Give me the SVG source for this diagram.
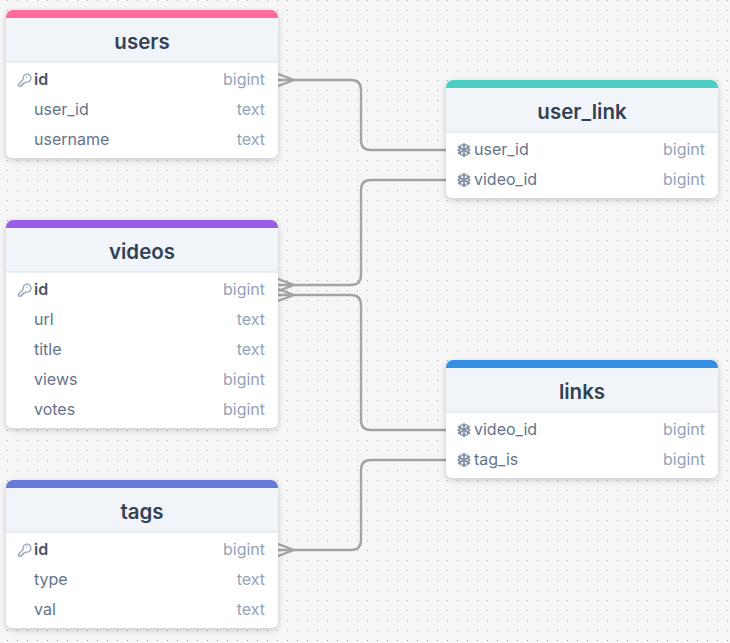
<svg xmlns="http://www.w3.org/2000/svg" width="730" height="643" viewBox="0 0 730 643">
<style>
.card{fill:#fff;filter:url(#sh)}
.head{fill:#f1f5f9}
.sep{stroke:#e2e8f0;stroke-width:1.5}
.title{font:600 20.500px Inter,"Liberation Sans",sans-serif;fill:#334155;text-anchor:middle}
.col{font:400 16px Inter,"Liberation Sans",sans-serif;fill:#64748b}
.pk{font-weight:600;fill:#475569}
.type{font:400 16px Inter,"Liberation Sans",sans-serif;fill:#94a3b8;text-anchor:end}
.edge{fill:none;stroke:#a3a3a3;stroke-width:2.400}
.ico{fill:none;stroke:#94a3b8;stroke-width:1.300;stroke-linecap:round;stroke-linejoin:round}
.fk{fill:none;stroke:#7f8ea3;stroke-width:1.500;stroke-linecap:round;stroke-linejoin:round}
</style>
<defs>
<pattern id="dots" width="10" height="10" patternUnits="userSpaceOnUse" x="7" y="0"><rect x="0" y="0" width="1" height="1" fill="#a8a8a8"/></pattern>
<filter id="sh" x="-10%" y="-10%" width="120%" height="125%"><feDropShadow dx="0" dy="2" stdDeviation="3" flood-color="#000" flood-opacity=".2"/></filter>
<g id="key"><path class="ico" d="M-5.500 4.200-.8-.6A4 4 0 1 1 1.800 2L.6 3.200H-1V4.800H-2.600V6.200H-5.500Z"/><circle cx="2.500" cy="-3" r=".7" fill="#94a3b8"/></g>
<g id="flake"><path class="fk" d="M0-6.500V6.500M-5.600-3.250 5.600 3.250M-5.600 3.250 5.600-3.250M-2-5.500 0-3.500 2-5.500M-2 5.500 0 3.500 2 5.500M-5.800-.4-3 -1.750-3.800-4.500M5.800-.4 3 -1.750 3.800-4.500M-5.800 .4-3 1.750-3.800 4.500M5.800 .4 3 1.750 3.800 4.500"/></g>
</defs>
<rect width="730" height="643" fill="#f6f6f6"/>
<rect width="730" height="643" fill="url(#dots)"/>
<g id="connectors">
<path class="edge" d="M278 80H351Q361 80 361 90V140Q361 150 371 150H446M278 74 294 80 278 86"/>
<path class="edge" d="M278 285H351Q361 285 361 275V190Q361 180 371 180H446M278 279 294 285 278 291"/>
<path class="edge" d="M278 295H351Q361 295 361 305V420Q361 430 371 430H446M278 289 294 295 278 301"/>
<path class="edge" d="M278 550H351Q361 550 361 540V470Q361 460 371 460H446M278 544 294 550 278 556"/>
</g>
<g id="users">
<rect class="card" x="6" y="10" width="272" height="148" rx="7"/>
<path class="head" d="M6 18H278V62H6Z"/><path d="M6 18V17a7 7 0 0 1 7-7H271a7 7 0 0 1 7 7V18Z" fill="#ff6b9d"/><path class="sep" d="M6 62H278"/>
<text class="title" x="142" y="48.500">users</text>
<use href="#key" x="24" y="80"/><text class="col pk" x="34" y="85">id</text><text class="type" x="265" y="85">bigint</text>
<text class="col" x="34" y="115">user_id</text><text class="type" x="265" y="115">text</text>
<text class="col" x="34" y="145">username</text><text class="type" x="265" y="145">text</text>
</g>
<g id="videos">
<rect class="card" x="6" y="220" width="272" height="208" rx="7"/>
<path class="head" d="M6 228H278V272H6Z"/><path d="M6 228V227a7 7 0 0 1 7-7H271a7 7 0 0 1 7 7V228Z" fill="#9b5de5"/><path class="sep" d="M6 272H278"/>
<text class="title" x="142" y="258.500">videos</text>
<use href="#key" x="24" y="290"/><text class="col pk" x="34" y="295">id</text><text class="type" x="265" y="295">bigint</text>
<text class="col" x="34" y="325">url</text><text class="type" x="265" y="325">text</text>
<text class="col" x="34" y="355">title</text><text class="type" x="265" y="355">text</text>
<text class="col" x="34" y="385">views</text><text class="type" x="265" y="385">bigint</text>
<text class="col" x="34" y="415">votes</text><text class="type" x="265" y="415">bigint</text>
</g>
<g id="tags">
<rect class="card" x="6" y="480" width="272" height="148" rx="7"/>
<path class="head" d="M6 488H278V532H6Z"/><path d="M6 488V487a7 7 0 0 1 7-7H271a7 7 0 0 1 7 7V488Z" fill="#667bd6"/><path class="sep" d="M6 532H278"/>
<text class="title" x="142" y="518.500">tags</text>
<use href="#key" x="24" y="550"/><text class="col pk" x="34" y="555">id</text><text class="type" x="265" y="555">bigint</text>
<text class="col" x="34" y="585">type</text><text class="type" x="265" y="585">text</text>
<text class="col" x="34" y="615">val</text><text class="type" x="265" y="615">text</text>
</g>
<g id="user_link">
<rect class="card" x="446" y="80" width="272" height="118" rx="7"/>
<path class="head" d="M446 88H718V132H446Z"/><path d="M446 88V87a7 7 0 0 1 7-7H711a7 7 0 0 1 7 7V88Z" fill="#4ecdc4"/><path class="sep" d="M446 132H718"/>
<text class="title" x="582" y="118.500">user_link</text>
<use href="#flake" x="464" y="150"/><text class="col" x="474" y="155">user_id</text><text class="type" x="705" y="155">bigint</text>
<use href="#flake" x="464" y="180"/><text class="col" x="474" y="185">video_id</text><text class="type" x="705" y="185">bigint</text>
</g>
<g id="links">
<rect class="card" x="446" y="360" width="272" height="118" rx="7"/>
<path class="head" d="M446 368H718V412H446Z"/><path d="M446 368V367a7 7 0 0 1 7-7H711a7 7 0 0 1 7 7V368Z" fill="#3590e3"/><path class="sep" d="M446 412H718"/>
<text class="title" x="582" y="398.500">links</text>
<use href="#flake" x="464" y="430"/><text class="col" x="474" y="435">video_id</text><text class="type" x="705" y="435">bigint</text>
<use href="#flake" x="464" y="460"/><text class="col" x="474" y="465">tag_is</text><text class="type" x="705" y="465">bigint</text>
</g>
</svg>
